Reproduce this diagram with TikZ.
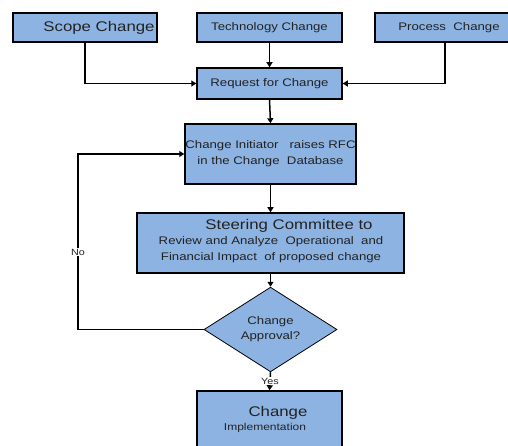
\documentclass[tikz,border=0pt]{standalone}
\usepackage{fontspec}
\setmainfont{Liberation Sans}[FakeStretch=1.2]
\usetikzlibrary{shapes.geometric,arrows.meta}
\definecolor{boxblue}{HTML}{8DB3E2}
\definecolor{txt}{HTML}{222222}
\newcommand{\fs}[2]{\fontsize{#1}{#2}\selectfont}
\begin{document}
\begin{tikzpicture}[x=1pt,y=-1pt,
  box/.style={draw=black,fill=boxblue,line width=1.5pt,inner sep=0pt,text=txt,align=center},
  dia/.style={diamond,draw=black,fill=boxblue,line width=0.8pt,inner sep=0pt,text=txt,align=center},
  arr/.style={line width=1.5pt,-{Triangle[length=5pt,width=6pt]}},
  lbl/.style={fill=white,inner sep=1pt,text=txt},
  txtn/.style={inner sep=0pt,text=txt,align=center}]
\useasboundingbox (0,0) rectangle (508,446);
% boxes
\node[box,minimum width=144pt,minimum height=29pt] (scope) at (85,27.5) {};
\node[txtn,font=\fs{14}{16}] (scopetxt) at (99,27.5) {Scope Change};
\node[box,minimum width=145pt,minimum height=29pt,font=\fs{11}{13}] (tech) at (269.5,27.5) {Technology Change};
\node[box,minimum width=140pt,minimum height=29pt] (process) at (445,27.5) {};
\node[txtn,font=\fs{11}{13}] (processtxt) at (449,27.5) {Process\ \ Change};
\node[box,minimum width=145pt,minimum height=31pt,font=\fs{11}{13}] (request) at (269.5,83.5) {Request for Change};
\node[box,minimum width=171pt,minimum height=60pt,font=\fs{11}{16}] (init) at (270.5,154) {Change Initiator\ \ \ raises RFC\\in the Change\ \ Database};
\node[box,minimum width=267pt,minimum height=60pt] (steer) at (270.5,243) {};
\node[txtn,font=\fs{14}{16}] (steer1) at (289,226) {Steering Committee to};
\node[txtn,font=\fs{11}{15.5}] (steer2) at (271,249.5) {Review and Analyze\ \ Operational\ \ and\\Financial Impact\ \ of proposed change};
\node[dia,minimum width=133pt,minimum height=67pt,font=\fs{11}{15}] (dec) at (270.5,329.5) {Change\\Approval?};
\node[box,minimum width=145pt,minimum height=70pt] (impl) at (269.5,426) {};
\node[txtn,font=\fs{14}{16}] (impl1) at (278,413) {Change};
\node[txtn,font=\fs{10}{12}] (impl2) at (265,428) {Implementation};
% connectors
\coordinate (nox) at (78,0);
\draw[arr] (scope.south) |- (request.west);
\draw[arr] (process.south) |- (request.east);
\draw[arr] (tech.south) -- (request.north);
\draw[arr] (request.south) -- (init.north);
\draw[arr] (init.south) -- (steer.north);
\draw[arr] (steer.south) -- (dec.north);
\draw[arr] (dec.south) -- node[lbl,font=\fs{9}{10}] (yes) {Yes} (impl.north);
\draw[arr] (dec.west) -- (dec.west -| nox) |- node[lbl,font=\fs{9}{10},pos=0.22] (no) {No} (init.west);
\end{tikzpicture}
\end{document}
